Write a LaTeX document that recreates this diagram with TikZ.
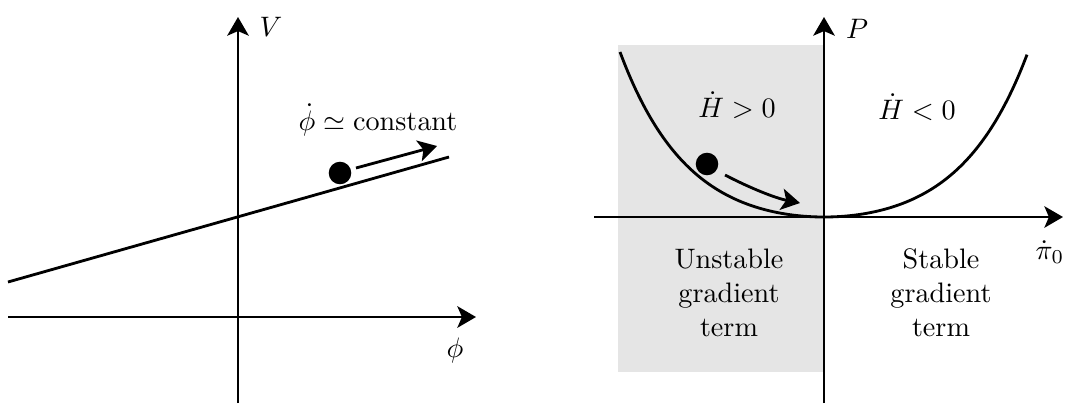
\documentclass[tikz,border=0pt]{standalone}
\usetikzlibrary{arrows.meta}
\begin{document}
\begin{tikzpicture}[x=0.355pt,y=-0.355pt,
  axis/.style={line width=1pt,-{Stealth[length=6.6pt,width=7.6pt,inset=1.6pt]}},
  curve/.style={line width=1pt},
  ball/.style={circle,fill=black,inner sep=0pt,minimum size=8pt},
  lbl/.style={inner sep=0pt},
  block/.style={align=center,inner sep=0pt}]
\useasboundingbox (0,0) rectangle (1066,403);
% ---------- left panel ----------
\coordinate (LxA) at (8,317);
\coordinate (LxB) at (476,317);
\coordinate (LyA) at (238,403);
\coordinate (LyB) at (238,17);
\draw[axis] (LxA) -- (LxB);
\draw[axis] (LyA) -- (LyB);
\coordinate (LlA) at (8,282);
\coordinate (LlB) at (449,157);
\draw[curve] (LlA) -- (LlB);
\node[ball] (Lball) at (340,173) {};
\coordinate (LaA) at (356,168);
\coordinate (LaB) at (437,146);
\draw[axis] (LaA) -- (LaB);
\node[lbl] (V) at (271,27) {$V$};
\node[lbl] (phi) at (455,350) {$\phi$};
\node[lbl] (const) at (378,120) {$\dot\phi\simeq\mathrm{constant}$};
% ---------- right panel ----------
\fill[black!10] (618,45) rectangle (824,372);
\coordinate (RxA) at (594,217);
\coordinate (RxB) at (1063,217);
\coordinate (RyA) at (824,403);
\coordinate (RyB) at (824,17);
\draw[axis] (RxA) -- (RxB);
\draw[axis] (RyA) -- (RyB);
\draw[curve] plot[smooth,domain=-204:203,samples=81] ({824+\x},{217-165*(cosh(3*\x/204)-1)/9.0677});
\node[ball] (Rball) at (707,164) {};
\coordinate (RaA) at (725,175);
\coordinate (RaB) at (800,203);
\draw[axis] (RaA) .. controls (750,188) and (775,198) .. (RaB);
\node[lbl] (P) at (857,29) {$P$};
\node[lbl] (pi) at (1050,252) {$\dot\pi_0$};
\node[lbl] (Hpos) at (737,105) {$\dot H>0$};
\node[lbl] (Hneg) at (917,107) {$\dot H<0$};
\node[block] (unst) at (729,293) {Unstable\\gradient\\term};
\node[block] (st) at (941,293) {Stable\\gradient\\term};
\end{tikzpicture}
\end{document}
